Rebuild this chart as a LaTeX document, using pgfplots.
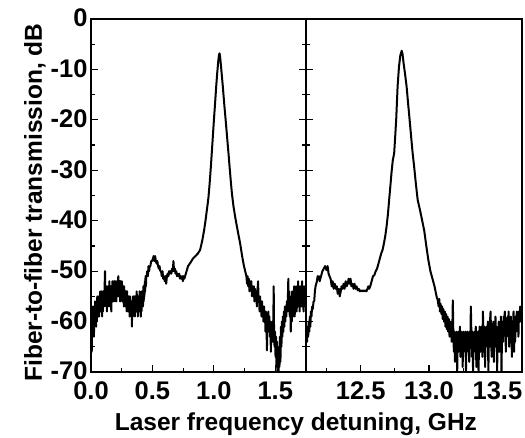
\documentclass[border=0pt]{standalone}
\usepackage{fontspec}
\setmainfont{Liberation Sans}
\usepackage{pgfplots}
\pgfplotsset{compat=1.18}
\begin{document}
\begin{tikzpicture}
\useasboundingbox (-91pt,-65pt) rectangle (434pt,372pt);
\pgfplotsset{
  myax/.style={
    scale only axis, height=353pt, ymin=-70, ymax=0,
    axis line style={line width=1.3pt},
    tick align=inside, major tick length=7pt, minor tick length=4pt,
    every tick/.style={black, line width=1.2pt},
    tick label style={font=\fontsize{25.5}{28}\selectfont\bfseries},
    label style={font=\fontsize{24.5}{27}\selectfont\bfseries},
    xticklabel style={yshift=-6pt},
    ytick={-70,-60,...,0}, minor ytick={-65,-55,...,-5},
    xtick pos=left, xticklabel pos=left,
  },
  curve/.style={black, line width=2pt, line join=round, no marks}
}
\begin{axis}[myax, name=L, at={(0pt,0pt)}, anchor=south west, width=215pt,
  xmin=0, xmax=1.75,
  xtick={0,0.5,1,1.5}, xticklabels={0.0,0.5,1.0,1.5}, minor xtick={0.25,0.75,1.25},
  yticklabels={-70,-60,-50,-40,-30,-20,-10,0},
  yticklabel style={yshift=1pt},
  ytick pos=both, yticklabel pos=left,
  ylabel={Fiber-to-fiber transmission, dB},
  ylabel style={at={(ticklabel cs:0.48,-2pt)}},
  xlabel={Laser frequency detuning, GHz},
  xlabel style={at={(rel axis cs:0.953,0)}, anchor=base, yshift=-58pt},
]
\addplot[curve] table {
0.000 -64
0.003 -57
0.006 -66
0.009 -59
0.012 -63
0.015 -57
0.018 -62
0.021 -58
0.024 -63
0.027 -57
0.030 -61
0.033 -56
0.036 -60
0.039 -57
0.042 -61
0.045 -56
0.048 -60
0.051 -55
0.054 -59
0.057 -56
0.060 -59
0.063 -55
0.066 -59
0.069 -55
0.072 -58
0.075 -54
0.078 -58
0.081 -55
0.084 -58
0.087 -54
0.090 -59
0.093 -55
0.096 -58
0.099 -54
0.102 -57
0.105 -54
0.108 -57
0.111 -53
0.114 -50
0.117 -56
0.120 -53
0.123 -57
0.126 -53
0.129 -58
0.132 -54
0.135 -57
0.138 -53
0.141 -56
0.144 -53
0.147 -57
0.150 -52
0.153 -56
0.156 -53
0.159 -57
0.162 -53
0.165 -58
0.168 -54
0.171 -56
0.174 -52
0.177 -56
0.180 -53
0.183 -56
0.186 -52
0.189 -55
0.192 -52
0.195 -56
0.198 -52
0.201 -55
0.204 -53
0.207 -56
0.210 -52
0.213 -55
0.216 -52
0.219 -54
0.222 -51
0.225 -55
0.228 -52
0.231 -55
0.234 -52
0.237 -56
0.240 -52
0.243 -55
0.246 -53
0.249 -55
0.252 -52
0.255 -56
0.258 -53
0.261 -56
0.264 -53
0.267 -57
0.270 -53
0.273 -56
0.276 -54
0.279 -57
0.282 -54
0.285 -57
0.288 -54
0.291 -58
0.294 -54
0.297 -57
0.300 -55
0.303 -58
0.306 -55
0.309 -58
0.312 -55
0.315 -59
0.318 -55
0.321 -58
0.324 -56
0.327 -59
0.330 -56
0.333 -61
0.336 -56
0.339 -59
0.342 -55
0.345 -58
0.348 -55
0.351 -58
0.354 -55
0.357 -59
0.360 -55
0.363 -58
0.366 -55
0.369 -58
0.372 -54
0.375 -58
0.378 -55
0.381 -59
0.384 -55
0.387 -58
0.390 -55
0.393 -58
0.396 -54
0.399 -58
0.402 -55
0.405 -59
0.408 -55
0.411 -58
0.414 -54
0.417 -57
0.420 -54
0.423 -57
0.426 -53
0.429 -56
0.432 -53
0.435 -55
0.438 -52
0.441 -54
0.444 -51
0.447 -53
0.450 -51
0.453 -51
0.458 -50
0.463 -51
0.468 -49
0.473 -50
0.478 -49
0.483 -49
0.490 -48
0.497 -48
0.504 -47.5
0.510 -47
0.516 -48
0.522 -47
0.528 -48
0.534 -48.5
0.540 -48
0.546 -49
0.552 -49.5
0.558 -49
0.564 -50
0.570 -50
0.576 -51
0.582 -50
0.588 -51.5
0.594 -51
0.600 -52
0.606 -51
0.612 -52.5
0.618 -51
0.624 -50.5
0.630 -51
0.636 -50
0.642 -50.5
0.648 -50
0.654 -50.5
0.660 -49.5
0.666 -50
0.671 -48
0.676 -50
0.682 -49.5
0.688 -50.5
0.694 -50
0.700 -51
0.706 -50.5
0.712 -51
0.718 -50.5
0.724 -51.5
0.730 -51
0.736 -51.5
0.742 -51
0.748 -52
0.754 -51
0.760 -51.5
0.766 -51
0.772 -50.5
0.778 -50
0.784 -49.5
0.790 -49
0.810 -48.3
0.830 -47.5
0.850 -47
0.870 -46.5
0.888 -45.8
0.905 -44
0.920 -42
0.932 -40
0.943 -37.9
0.950 -36.6
0.956 -35.4
0.965 -32.8
0.975 -29.5
0.983 -26.6
0.992 -23.2
1.000 -20.2
1.010 -16.7
1.019 -13.4
1.027 -10.8
1.035 -8.6
1.041 -7.2
1.046 -6.8
1.051 -7.5
1.058 -9.3
1.066 -11.5
1.073 -13.4
1.085 -17
1.097 -20.3
1.108 -23.5
1.119 -26.6
1.128 -29.3
1.138 -32.2
1.147 -34.6
1.160 -37.2
1.174 -39.3
1.185 -40.8
1.198 -42.5
1.214 -44.5
1.230 -47
1.245 -49
1.260 -50.5
1.265 -51
1.270 -52.5
1.275 -51
1.280 -53
1.285 -51.5
1.290 -54
1.295 -52
1.300 -53.5
1.305 -52
1.310 -55
1.315 -53
1.320 -54.5
1.325 -53
1.330 -56
1.335 -53.5
1.340 -55
1.345 -54
1.350 -57
1.355 -54
1.360 -52
1.364 -56
1.368 -55
1.372 -58
1.376 -55
1.380 -57
1.384 -56
1.388 -59
1.392 -56
1.396 -58
1.400 -57
1.404 -60
1.408 -57
1.412 -59
1.416 -58
1.420 -62
1.424 -58
1.428 -60
1.432 -65.7
1.436 -59
1.440 -61
1.444 -58
1.448 -62
1.452 -59
1.456 -63
1.460 -60
1.464 -66
1.468 -61
1.472 -63
1.476 -60
1.480 -64
1.484 -60
1.487 -53
1.490 -62
1.494 -65
1.498 -62
1.502 -67
1.506 -63
1.510 -69
1.514 -64
1.518 -70
1.522 -66
1.526 -70
1.530 -65
1.534 -69
1.538 -63
1.542 -68
1.546 -61
1.550 -65
1.554 -60
1.558 -63
1.562 -59
1.566 -62
1.570 -58
1.574 -61
1.578 -57
1.582 -60
1.586 -57
1.590 -59
1.594 -56
1.598 -58
1.602 -56
1.606 -51.5
1.610 -58
1.614 -54
1.618 -59
1.622 -55
1.626 -62
1.630 -56
1.634 -60
1.638 -54
1.642 -59
1.646 -55
1.650 -58
1.654 -53
1.658 -59
1.662 -55
1.666 -58
1.670 -53
1.674 -58
1.678 -54
1.682 -57
1.686 -52
1.690 -57
1.694 -54
1.698 -58
1.702 -53
1.706 -57
1.710 -54
1.714 -57
1.718 -52
1.722 -57
1.726 -54
1.730 -58
1.734 -53
1.738 -57
1.742 -54
1.746 -56
1.750 -54
};
\end{axis}
\begin{axis}[myax, name=R, at={(215pt,0pt)}, anchor=south west, width=216pt,
  xmin=12.1, xmax=13.68,
  xtick={12.5,13,13.5}, xticklabels={12.5,13.0,13.5}, minor xtick={12.25,12.75,13.25},
  yticklabels={}, ytick pos=left,
]
\addplot[curve] table {
12.100 -64
12.104 -62
12.108 -64
12.112 -61
12.116 -63
12.120 -60
12.124 -62
12.128 -59
12.132 -61
12.136 -58
12.140 -59
12.145 -57
12.150 -57.5
12.155 -56
12.160 -56
12.165 -54
12.170 -53
12.175 -52.5
12.180 -52
12.185 -51
12.190 -51.5
12.195 -51
12.200 -52
12.210 -51
12.220 -50
12.230 -49.5
12.240 -49
12.250 -49.8
12.258 -49
12.265 -50.5
12.272 -51
12.280 -51.5
12.288 -53
12.295 -52
12.302 -53.5
12.310 -52.5
12.318 -53.5
12.325 -53
12.332 -54.5
12.340 -53.5
12.347 -55
12.354 -54
12.360 -53
12.368 -53.5
12.375 -52.5
12.382 -53.5
12.390 -52
12.398 -53
12.405 -52.5
12.412 -51.5
12.420 -52.5
12.426 -51.5
12.432 -53
12.440 -52.5
12.448 -53.5
12.455 -52.5
12.462 -53.5
12.470 -53
12.478 -53.8
12.486 -53.5
12.494 -54
12.502 -53.8
12.510 -54
12.518 -53.8
12.526 -54
12.534 -53.8
12.542 -54
12.550 -53.5
12.556 -53
12.562 -53.5
12.570 -53
12.580 -52
12.590 -51
12.600 -50.8
12.610 -50
12.620 -49.5
12.630 -48.5
12.640 -47.5
12.650 -46.5
12.660 -45.8
12.670 -44.5
12.680 -43
12.690 -41
12.700 -38.5
12.708 -35.9
12.716 -33.5
12.726 -30.3
12.735 -28
12.745 -26.6
12.752 -23.5
12.760 -19.8
12.770 -13.4
12.780 -9.5
12.790 -7.2
12.800 -6.3
12.806 -6.9
12.814 -8.8
12.825 -11
12.836 -13.4
12.846 -16.5
12.858 -20
12.870 -23.6
12.880 -26.6
12.890 -29
12.903 -32.5
12.917 -35.9
12.934 -37.9
12.950 -40
12.965 -42
12.980 -45
12.995 -47.8
13.010 -50
13.025 -51.5
13.040 -53
13.055 -55
13.064 -55.8
13.070 -57
13.075 -55.5
13.080 -58
13.085 -56.5
13.090 -58.5
13.095 -57
13.100 -59.5
13.105 -57.5
13.110 -60
13.115 -58
13.120 -61
13.125 -58.5
13.130 -61.5
13.135 -59
13.140 -62
13.145 -59.5
13.150 -63
13.155 -60
13.160 -61
13.166 -64
13.170 -62
13.174 -55.8
13.178 -63
13.182 -66
13.186 -62
13.190 -68
13.194 -63
13.198 -65
13.202 -62
13.206 -70
13.210 -63
13.214 -66
13.218 -62
13.222 -64
13.226 -61
13.230 -67
13.234 -62
13.238 -65
13.242 -63
13.246 -69
13.250 -62
13.254 -65
13.258 -63
13.262 -66
13.266 -62
13.270 -70
13.274 -64
13.278 -66
13.282 -62
13.286 -65
13.290 -63
13.294 -68
13.298 -62
13.302 -64
13.306 -57
13.310 -63
13.314 -67
13.318 -62
13.322 -70
13.326 -63
13.330 -66
13.334 -62
13.338 -64
13.342 -61
13.346 -69
13.350 -63
13.354 -65
13.358 -62
13.362 -70
13.366 -64
13.370 -61
13.374 -66
13.378 -62
13.382 -65
13.386 -61
13.390 -67
13.394 -58
13.398 -63
13.402 -66
13.406 -61
13.410 -69
13.414 -62
13.418 -65
13.422 -61
13.426 -64
13.430 -60
13.434 -70
13.438 -62
13.442 -65
13.446 -60
13.450 -58
13.454 -63
13.458 -67
13.462 -61
13.466 -64
13.470 -60
13.474 -68
13.478 -61
13.482 -63
13.486 -59
13.490 -65
13.494 -61
13.498 -70
13.502 -62
13.506 -64
13.510 -60
13.514 -66
13.518 -61
13.522 -63
13.526 -59
13.530 -70
13.534 -62
13.538 -60
13.542 -64
13.546 -59
13.550 -62
13.554 -58
13.558 -61
13.562 -66
13.566 -60
13.570 -63
13.574 -59
13.578 -62
13.582 -58
13.586 -65
13.590 -61
13.594 -63
13.598 -59
13.602 -61
13.606 -67
13.610 -60
13.614 -62
13.618 -58
13.622 -66
13.626 -61
13.630 -64
13.634 -59
13.638 -62
13.642 -58
13.646 -61
13.650 -59
13.654 -63
13.658 -58
13.662 -60
13.666 -57
13.670 -60
13.674 -58
13.678 -59
13.682 -57
};
\end{axis}
\end{tikzpicture}
\end{document}
